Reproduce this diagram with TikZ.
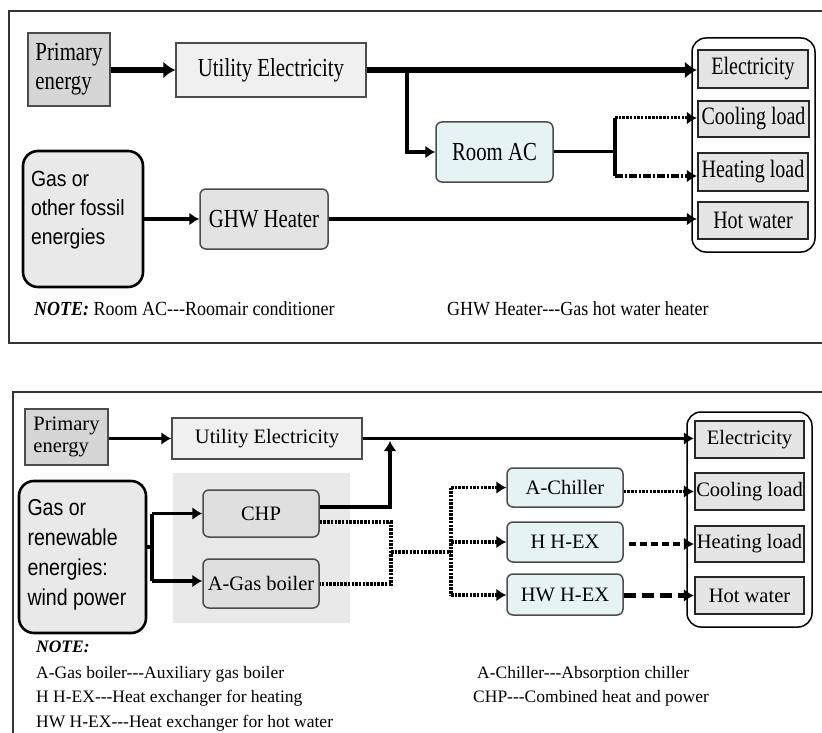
\documentclass[tikz,border=0pt]{standalone}
\usepackage{fontspec}
\setmainfont{Liberation Serif}
\newfontfamily\topfont[FakeStretch=0.8]{Liberation Serif}
\newfontfamily\notefont[FakeStretch=0.9]{Liberation Serif}
\newfontfamily\gasfont[FakeStretch=0.88]{Liberation Sans}
\newfontfamily\gasfontb[FakeStretch=0.85]{Liberation Sans}
\usetikzlibrary{arrows.meta,calc}
\definecolor{cyanfill}{HTML}{E6F3F4}
\begin{document}
\begin{tikzpicture}[x=1pt,y=-1pt]
\tikzset{
 frame/.style={draw=black!80, line width=1.8pt},
 sqbox/.style={draw=black!70, line width=1.5pt, inner sep=0pt, align=center},
 rbox/.style={sqbox, rounded corners=6pt},
 loadbox/.style={draw=black!85, line width=2.4pt, inner sep=0pt, fill=gray!20},
 holder/.style={draw=black, line width=1.5pt, rounded corners=14pt, fill=white, inner sep=0pt},
 gasbox/.style={draw=black, line width=2.6pt, rounded corners=15pt, fill=gray!17, inner sep=0pt},
 tfont/.style={font=\topfont\fontsize{26}{29}\selectfont},
 lfont/.style={font=\topfont\fontsize{25}{28}\selectfont},
 bfont/.style={font=\fontsize{20.5}{22.5}\selectfont},
 arr/.style={-{Latex[length=10pt,width=13pt]}},
 bigarr/.style={-{Latex[length=12pt,width=17pt]}},
 dens/.style={dash pattern=on 2.5pt off 1.2pt},
 dashdotx/.style={dash pattern=on 8pt off 2pt on 2pt off 2pt},
 notetop/.style={anchor=base west, inner sep=0pt, font=\notefont\fontsize{20}{24}\selectfont},
 notebot/.style={anchor=base west, inner sep=0pt, font=\fontsize{17.5}{21}\selectfont},
}
\useasboundingbox (0,0) rectangle (822,733);

% ---------------- top panel ----------------
\draw[frame] (823,11) -- (9,11) -- (9,343) -- (823,343);
\node[holder, minimum width=123pt, minimum height=214pt] (cont1) at (753.5,145) {};
\node[sqbox, fill=gray!32, tfont, align=left, minimum width=82pt, minimum height=73pt] (pe1) at (69,69.5) {Primary\\energy};
\node[sqbox, fill=gray!12, tfont, minimum width=190pt, minimum height=54pt] (ue1) at (271,70) {Utility Electricity};
\node[gasbox, minimum width=120pt, minimum height=136pt] (gas1) at (83,219)
 {\begin{minipage}[c][96pt][t]{104pt}\gasfont\fontsize{22}{29}\selectfont\leftskip=5pt\raggedright
 Gas or\\other fossil\\energies\end{minipage}};
\node[rbox, fill=gray!22, tfont, minimum width=128pt, minimum height=60pt] (ghw) at (264,219) {GHW Heater};
\node[rbox, fill=cyanfill, tfont, minimum width=117pt, minimum height=60pt] (rac) at (494.5,152) {Room AC};
\node[loadbox, lfont, minimum width=110pt, minimum height=38pt] (el1) at (753,69) {Electricity};
\node[loadbox, lfont, minimum width=111pt, minimum height=36pt] (cl1) at (753.5,119) {Cooling load};
\node[loadbox, lfont, minimum width=110pt, minimum height=38pt] (hl1) at (753,172) {Heating load};
\node[loadbox, lfont, minimum width=110pt, minimum height=37pt] (hw1) at (753,220.5) {Hot water};

\draw[line width=5.5pt, bigarr] (pe1.east |- ue1) -- (ue1.west);
\draw[line width=5.5pt, bigarr] (ue1.east) -- (ue1.east -| el1.west);
\coordinate (br1) at (407,70);
\draw[line width=4pt, arr] (br1) |- (rac.west);
\draw[line width=4pt, arr] (gas1.east |- ghw) -- (ghw.west);
\draw[line width=4pt, arr] (ghw.east) -- (ghw.east -| hw1.west);
\coordinate (j1) at (615,152);
\coordinate (c1) at (615,118);
\coordinate (h1) at (615,176);
\draw[line width=3pt] (rac.east) -- (j1);
\draw[line width=3.5pt] (c1) -- (h1);
\draw[line width=3pt, dens, arr] (c1) -- (c1 -| cl1.west);
\draw[line width=3.5pt, dashdotx, arr] (h1) -- (h1 -| hl1.west);

\node[notetop] (n1) at (34,315) {\textbf{\textit{NOTE:}} Room AC-{}-{}-Roomair conditioner};
\node[notetop] (n2) at (447,315) {GHW Heater-{}-{}-Gas hot water heater};

% ---------------- bottom panel ----------------
\draw[frame] (823,392) -- (13,392) -- (13,735);
\fill[gray!17] (173,473) rectangle (350,623);
\node[holder, minimum width=125pt, minimum height=215pt] (cont2) at (749.5,519.5) {};
\node[sqbox, fill=gray!32, bfont, align=left, minimum width=83pt, minimum height=56pt] (pe2) at (66.5,437) {Primary\\energy};
\node[sqbox, fill=gray!12, bfont, minimum width=190pt, minimum height=41pt] (ue2) at (267,438.5) {Utility Electricity};
\node[gasbox, minimum width=127pt, minimum height=152pt] (gas2) at (82.5,557)
 {\begin{minipage}[c][116pt][t]{110pt}\gasfontb\fontsize{23}{30}\selectfont\leftskip=4.5pt\raggedright
 Gas or\\renewable\\energies:\\wind power\end{minipage}};
\node[rbox, fill=gray!25, bfont, minimum width=116pt, minimum height=47pt] (chp) at (261,513.5) {CHP};
\node[rbox, fill=gray!25, bfont, minimum width=116pt, minimum height=49pt] (agb) at (261,583.5) {A-Gas boiler};
\node[rbox, fill=cyanfill, bfont, minimum width=116pt, minimum height=39pt] (ach) at (565,487.5) {A-Chiller};
\node[rbox, fill=cyanfill, bfont, minimum width=116pt, minimum height=40pt] (hhex) at (565,542) {H H-EX};
\node[rbox, fill=cyanfill, bfont, minimum width=116pt, minimum height=41pt] (hwhex) at (565,594.5) {HW H-EX};
\node[loadbox, bfont, minimum width=109pt, minimum height=37pt] (el2) at (749.5,439.5) {Electricity};
\node[loadbox, bfont, minimum width=109pt, minimum height=37pt] (cl2) at (749.5,491.5) {Cooling load};
\node[loadbox, bfont, minimum width=109pt, minimum height=36pt] (hl2) at (749.5,544) {Heating load};
\node[loadbox, bfont, minimum width=109pt, minimum height=37pt] (hw2) at (749.5,595.5) {Hot water};

\draw[line width=3.5pt, arr] (pe2.east |- ue2) -- (ue2.west);
\draw[line width=3.5pt, arr] (ue2.east) -- (ue2.east -| el2.west);
\coordinate (k1) at (390,507);
\coordinate (k2) at (390,441);
\draw[line width=3.5pt, arr] (chp.east |- k1) -- (k1) -- (k2);
\coordinate (d1) at (391,522);
\coordinate (d2) at (391,584);
\coordinate (d3) at (391,552);
\coordinate (d4) at (451,552);
\draw[line width=3.5pt, dens] (chp.east |- d1) -- (d1) -- (d2) -- (agb.east |- d2);
\draw[line width=3.5pt, dens] (d3) -- (d4);
\coordinate (e1) at (451,487.5);
\coordinate (e3) at (451,595);
\draw[line width=3.5pt, dens] (e1) -- (e3);
\draw[line width=3.5pt, dens, arr] (e1) -- (ach.west);
\draw[line width=3.5pt, dens, arr] (hhex.west -| d4) -- (hhex.west);
\draw[line width=3.5pt, dens, arr] (e3) -- (e3 -| hwhex.west);
\draw[line width=3.5pt, dens, arr] (ach.east |- cl2.west) -- (cl2.west);
\coordinate (hx) at ([xshift=5pt]hhex.east);
\draw[line width=3.5pt, dash pattern=on 7pt off 4pt, arr] (hx |- hl2.west) -- (hl2.west);
\draw[line width=5pt, dash pattern=on 12pt off 6pt, arr] (hwhex.east |- hw2.west) -- (hw2.west);

\coordinate (g0) at (152,547);
\coordinate (g1) at (152,513.5);
\coordinate (g2) at (152,581);
\draw[line width=3.5pt] (gas2.east |- g0) -- (g0);
\draw[line width=3.5pt] (g1) -- (g2);
\draw[line width=3.5pt, arr] (g1) -- (chp.west);
\draw[line width=3.5pt, arr] (g2) -- (g2 -| agb.west);

\node[notebot] (nb0) at (36,652) {\textbf{\textit{NOTE:}}};
\node[notebot] (nb1) at (36,678) {A-Gas boiler-{}-{}-Auxiliary gas boiler};
\node[notebot] (nb2) at (36,702) {H H-EX-{}-{}-Heat exchanger for heating};
\node[notebot] (nb3) at (36,727) {HW H-EX-{}-{}-Heat exchanger for hot water};
\node[notebot] (nb4) at (477,678) {A-Chiller-{}-{}-Absorption chiller};
\node[notebot] (nb5) at (473,702) {CHP-{}-{}-Combined heat and power};
\end{tikzpicture}
\end{document}
